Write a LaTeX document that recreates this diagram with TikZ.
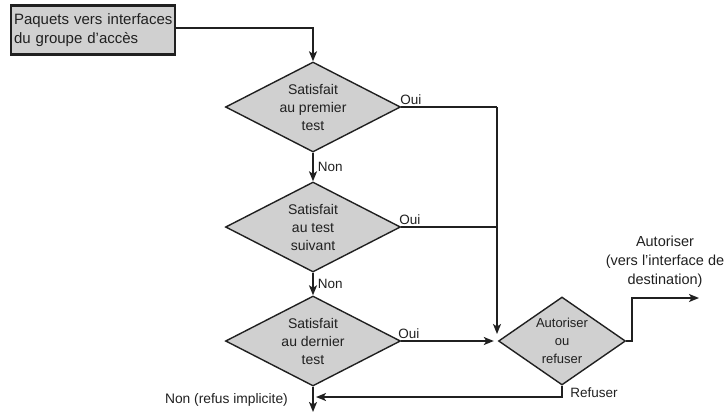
\documentclass[tikz,border=0pt]{standalone}
\usepackage{fontspec}
\setmainfont{Liberation Sans}
\usetikzlibrary{shapes.geometric,arrows.meta,calc}
\definecolor{boxgray}{HTML}{D0D0D0}
\definecolor{inkgray}{HTML}{202020}
\begin{document}
\begin{tikzpicture}[x=1pt,y=-1pt,
  every node/.style={text=inkgray},
  startbox/.style={draw=inkgray,line width=2.2pt,fill=boxgray,minimum width=164pt,minimum height=49pt,
    inner sep=2pt,align=left,font=\fontsize{15}{19}\selectfont},
  testbox/.style={shape=diamond,draw=inkgray,line width=1.4pt,fill=boxgray,aspect=1.95,inner sep=0pt,
    minimum width=175pt,minimum height=90pt,align=center,font=\fontsize{14}{18}\selectfont},
  flow/.style={draw=inkgray,line width=1.6pt},
  arr/.style={flow,-{Stealth[length=10pt,width=8pt,inset=2.5pt]}},
  lbl/.style={font=\fontsize{13.5}{19}\selectfont,inner sep=0pt},
  ouilbl/.style={lbl,anchor=south west,yshift=2pt}]
\useasboundingbox (0,0) rectangle (727,416);

% start box
\node[startbox,text width=158pt] (src) at (93,30) {\hbox{Paquets vers interfaces}\\du groupe d'accès};

% test diamonds
\node[testbox] (t1) at (313,107) {Satisfait\\au premier\\test};
\node[testbox] (t2) at (313,227) {Satisfait\\au test\\suivant};
\node[testbox] (t3) at (313,341) {Satisfait\\au dernier\\test};
\node[testbox,minimum width=127pt,minimum height=88pt,aspect=1.45,font=\fontsize{13}{18}\selectfont] (dec) at (562,341) {Autoriser\\ou\\refuser};

% routing points
\coordinate (bus) at (497,107);
\coordinate (busend) at (497,334);
\coordinate (out1) at (632,341);
\coordinate (out2) at (632,298);
\coordinate (outend) at (699,298);
\coordinate (back) at (562,397);
\coordinate (backend) at (316,397);
\coordinate (final) at (313,412);

% entry
\draw[arr] (src.east |- 0,28) -| (t1.north);

% "Non" branches
\draw[arr] (t1.south) -- node[lbl,anchor=west,xshift=4pt] {Non} (t2.north);
\draw[arr] (t2.south) -- node[lbl,anchor=west,xshift=4pt] {Non} (t3.north);
\draw[arr] (t3.south) -- (final);

% "Oui" branches
\draw[flow] (t1.east) -- (bus);
\draw[arr] (bus) -- (busend);
\draw[flow] (t2.east) -- (t2.east -| bus);
\draw[arr,shorten >=4pt] (t3.east) -- (dec.west);
\node[ouilbl,xshift=-1pt] at (t1.east) {Oui};
\node[ouilbl,xshift=-2pt] at (t2.east) {Oui};
\node[ouilbl,xshift=-3pt] at (t3.east) {Oui};

% decision outputs
\draw[arr] (dec.east) -- (out1) -- (out2) -- (outend);
\draw[arr] (dec.south) -- (back) -- (backend);
\node[lbl] at (594,393) {Refuser};
\node[lbl,align=center,font=\fontsize{14.5}{19}\selectfont] at (665,262) {Autoriser\\(vers l'interface de\\destination)};
\node[lbl,font=\fontsize{13.8}{19}\selectfont,anchor=east] at (288,400) {Non (refus implicite)};
\end{tikzpicture}
\end{document}
